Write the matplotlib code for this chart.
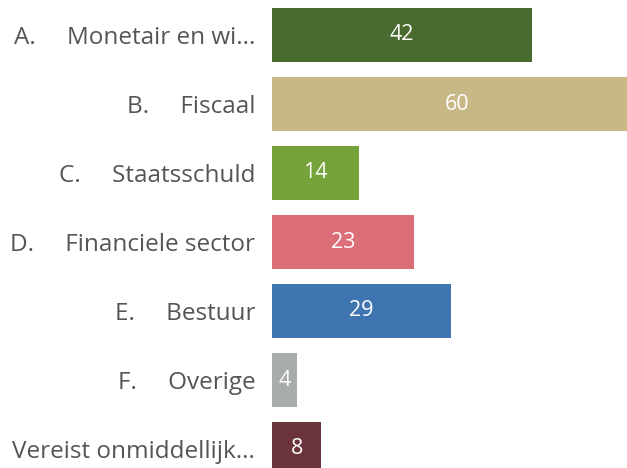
import matplotlib.pyplot as plt

labels = ['A.     Monetair en wi...', 'B.     Fiscaal', 'C.     Staatsschuld',
          'D.     Financiele sector', 'E.     Bestuur', 'F.     Overige',
          'Vereist onmiddellijk...']
values = [42, 60, 14, 23, 29, 4, 8]
colors = ['#4a6b2f', '#c8b886', '#76a23a', '#dc6e78', '#3e74b0', '#a9adaa', '#6b343c']

plt.rcParams['font.family'] = ['Open Sans', 'DejaVu Sans']

fig = plt.figure(figsize=(6.27, 4.68), dpi=100)
ax = fig.add_axes([272 / 627, 0, 1 - 272 / 627, 1])

pos = list(range(len(values)))
ax.barh(pos, values, height=0.77, color=colors)
for p, v in zip(pos, values):
    ax.text(v / 2, p, str(v), ha='center', va='center', color='white', fontsize=15.5)

ax.set_xlim(0, 355 / 6.18)
ax.set_ylim((468 - 35) / 69, -35 / 69)
ax.set_yticks(pos)
ax.set_yticklabels(labels, fontsize=17.5, color='#555555')
ax.tick_params(axis='y', length=0, pad=12)
ax.set_xticks([])
for s in ax.spines.values():
    s.set_visible(False)

fig.savefig('out.png', dpi=100)
